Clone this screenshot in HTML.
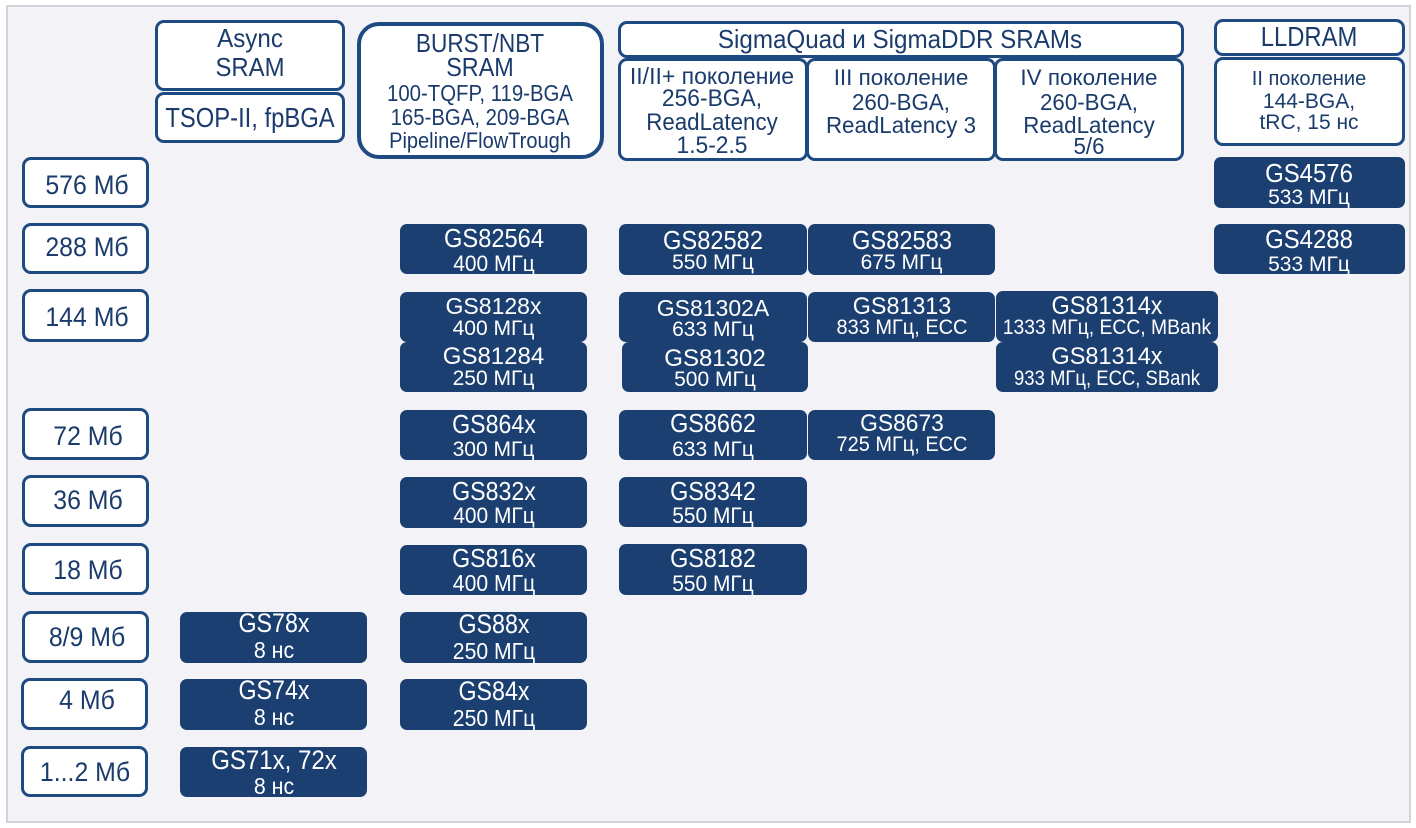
<!DOCTYPE html>
<html><head><meta charset="utf-8">
<style>
*{margin:0;padding:0;box-sizing:border-box}
html,body{width:1416px;height:828px;background:#fff;overflow:hidden}
body{position:relative;font-family:"Liberation Sans","DejaVu Sans",sans-serif}
#frame{position:absolute;left:6px;top:5px;width:1405px;height:818px;background:#f2f2f7;border:2px solid #d2d2d8}
.w{position:absolute;background:#fff;border:3px solid #1d4a80;border-radius:9px}
.d{position:absolute;background:#1b3f70;border-radius:7px}
.t{position:absolute;width:400px;text-align:center;white-space:nowrap;transform-origin:50% 50%}
.n{color:#1a3b6c}
.c{color:#fff}
</style></head><body>
<div id="frame"></div>

<!-- header boxes -->
<div class="w" style="left:155px;top:20px;width:190px;height:71px"></div>
<div class="w" style="left:155px;top:92px;width:190px;height:51px"></div>
<div class="w" style="left:357px;top:22px;width:247px;height:137px;border-width:4px;border-radius:22px"></div>
<div class="w" style="left:618px;top:21px;width:566px;height:37px"></div>
<div class="w" style="left:618px;top:58px;width:190px;height:103px"></div>
<div class="w" style="left:806px;top:58px;width:190px;height:103px"></div>
<div class="w" style="left:994px;top:58px;width:190px;height:103px"></div>
<div class="w" style="left:1214px;top:19px;width:191px;height:37px"></div>
<div class="w" style="left:1214px;top:57px;width:191px;height:89px"></div>

<!-- size labels -->
<div class="w" style="left:22px;top:157px;width:127px;height:51px"></div>
<div class="w" style="left:22px;top:223px;width:127px;height:51px"></div>
<div class="w" style="left:22px;top:289px;width:127px;height:53px"></div>
<div class="w" style="left:22px;top:408px;width:127px;height:52px"></div>
<div class="w" style="left:22px;top:475px;width:127px;height:52px"></div>
<div class="w" style="left:22px;top:543px;width:127px;height:52px"></div>
<div class="w" style="left:22px;top:611px;width:127px;height:52px"></div>
<div class="w" style="left:21px;top:678px;width:127px;height:52px"></div>
<div class="w" style="left:21px;top:746px;width:127px;height:51px"></div>

<!-- dark boxes -->
<div class="d" style="left:180px;top:612px;width:187px;height:51px"></div>
<div class="d" style="left:180px;top:679px;width:187px;height:51px"></div>
<div class="d" style="left:180px;top:747px;width:187px;height:50px"></div>

<div class="d" style="left:400px;top:224px;width:187px;height:50px"></div>
<div class="d" style="left:400px;top:292px;width:187px;height:50px"></div>
<div class="d" style="left:400px;top:342px;width:187px;height:50px"></div>
<div class="d" style="left:400px;top:410px;width:187px;height:50px"></div>
<div class="d" style="left:400px;top:477px;width:187px;height:51px"></div>
<div class="d" style="left:400px;top:545px;width:187px;height:50px"></div>
<div class="d" style="left:400px;top:612px;width:187px;height:51px"></div>
<div class="d" style="left:400px;top:679px;width:187px;height:51px"></div>

<div class="d" style="left:619px;top:224px;width:188px;height:51px"></div>
<div class="d" style="left:619px;top:292px;width:188px;height:50px"></div>
<div class="d" style="left:622px;top:342px;width:186px;height:50px"></div>
<div class="d" style="left:619px;top:410px;width:188px;height:50px"></div>
<div class="d" style="left:619px;top:477px;width:188px;height:50px"></div>
<div class="d" style="left:619px;top:544px;width:188px;height:51px"></div>

<div class="d" style="left:808px;top:224px;width:187px;height:51px"></div>
<div class="d" style="left:808px;top:292px;width:187px;height:50px"></div>
<div class="d" style="left:808px;top:410px;width:187px;height:50px"></div>

<div class="d" style="left:996px;top:291px;width:222px;height:51px"></div>
<div class="d" style="left:996px;top:342px;width:222px;height:50px"></div>

<div class="d" style="left:1214px;top:157px;width:191px;height:51px"></div>
<div class="d" style="left:1214px;top:224px;width:191px;height:50px"></div>

<!-- header texts -->
<div class="t n" style="left:50px;top:24.7px;font-size:26px;line-height:26px;transform:scaleX(.93)">Async</div>
<div class="t n" style="left:50px;top:53.7px;font-size:26px;line-height:26px;transform:scaleX(.92)">SRAM</div>
<div class="t n" style="left:50px;top:103.6px;font-size:28px;line-height:28px;transform:scaleX(.85)">TSOP-II, fpBGA</div>

<div class="t n" style="left:280px;top:30.3px;font-size:26px;line-height:26px;transform:scaleX(.87)">BURST/NBT</div>
<div class="t n" style="left:280px;top:54px;font-size:26px;line-height:26px;transform:scaleX(.9)">SRAM</div>
<div class="t n" style="left:280px;top:82.2px;font-size:23px;line-height:23px;transform:scaleX(.885)">100-TQFP, 119-BGA</div>
<div class="t n" style="left:280px;top:105.5px;font-size:23px;line-height:23px;transform:scaleX(.885)">165-BGA, 209-BGA</div>
<div class="t n" style="left:280px;top:129.7px;font-size:22px;line-height:22px;transform:scaleX(.91)">Pipeline/FlowTrough</div>

<div class="t n" style="left:700px;top:26.3px;font-size:26px;line-height:26px;transform:scaleX(.93)">SigmaQuad и SigmaDDR SRAMs</div>

<div class="t n" style="left:512px;top:64.5px;font-size:23px;line-height:23px;transform:scaleX(1)">II/II+ поколение</div>
<div class="t n" style="left:512px;top:87.2px;font-size:24px;line-height:24px;transform:scaleX(.95)">256-BGA,</div>
<div class="t n" style="left:512px;top:110.7px;font-size:24px;line-height:24px;transform:scaleX(.93)">ReadLatency</div>
<div class="t n" style="left:512px;top:133.7px;font-size:24px;line-height:24px;transform:scaleX(.95)">1.5-2.5</div>

<div class="t n" style="left:701px;top:67.4px;font-size:22px;line-height:22px;transform:scaleX(1.02)">III поколение</div>
<div class="t n" style="left:701px;top:90.5px;font-size:23px;line-height:23px;transform:scaleX(.97)">260-BGA,</div>
<div class="t n" style="left:701px;top:113.8px;font-size:23px;line-height:23px;transform:scaleX(.97)">ReadLatency 3</div>

<div class="t n" style="left:889px;top:67.4px;font-size:22px;line-height:22px;transform:scaleX(1.02)">IV поколение</div>
<div class="t n" style="left:889px;top:90.5px;font-size:23px;line-height:23px;transform:scaleX(.97)">260-BGA,</div>
<div class="t n" style="left:889px;top:113.5px;font-size:23px;line-height:23px;transform:scaleX(.97)">ReadLatency</div>
<div class="t n" style="left:889px;top:134.5px;font-size:23px;line-height:23px;transform:scaleX(.97)">5/6</div>

<div class="t n" style="left:1109px;top:23px;font-size:28px;line-height:28px;transform:scaleX(.85)">LLDRAM</div>
<div class="t n" style="left:1109px;top:69.1px;font-size:20px;line-height:20px;transform:scaleX(1)">II поколение</div>
<div class="t n" style="left:1109px;top:90.5px;font-size:21px;line-height:21px;transform:scaleX(1)">144-BGA,</div>
<div class="t n" style="left:1109px;top:112.2px;font-size:21px;line-height:21px;transform:scaleX(1)">tRC, 15 нс</div>

<!-- size label texts -->
<div class="t n" style="left:-113px;top:171.6px;font-size:27px;line-height:27px;transform:scaleX(.92)">576 Мб</div>
<div class="t n" style="left:-113px;top:233.8px;font-size:27px;line-height:27px;transform:scaleX(.92)">288 Мб</div>
<div class="t n" style="left:-113px;top:303.8px;font-size:27px;line-height:27px;transform:scaleX(.92)">144 Мб</div>
<div class="t n" style="left:-112px;top:422.8px;font-size:27px;line-height:27px;transform:scaleX(.92)">72 Мб</div>
<div class="t n" style="left:-112px;top:487.1px;font-size:27px;line-height:27px;transform:scaleX(.92)">36 Мб</div>
<div class="t n" style="left:-112px;top:557.1px;font-size:27px;line-height:27px;transform:scaleX(.92)">18 Мб</div>
<div class="t n" style="left:-113px;top:624.4px;font-size:27px;line-height:27px;transform:scaleX(.92)">8/9 Мб</div>
<div class="t n" style="left:-113px;top:687.1px;font-size:27px;line-height:27px;transform:scaleX(.92)">4 Мб</div>
<div class="t n" style="left:-115px;top:758.8px;font-size:27px;line-height:27px;transform:scaleX(.92)">1...2 Мб</div>

<!-- Async column texts -->
<div class="t c" style="left:73.5px;top:610.4px;font-size:27px;line-height:27px;transform:scaleX(.86)">GS78x</div>
<div class="t c" style="left:73.5px;top:638.8px;font-size:23px;line-height:23px;transform:scaleX(.93)">8 нс</div>
<div class="t c" style="left:73.5px;top:677.4px;font-size:27px;line-height:27px;transform:scaleX(.86)">GS74x</div>
<div class="t c" style="left:73.5px;top:705.8px;font-size:23px;line-height:23px;transform:scaleX(.93)">8 нс</div>
<div class="t c" style="left:73.5px;top:747.1px;font-size:27px;line-height:27px;transform:scaleX(.89)">GS71x, 72x</div>
<div class="t c" style="left:73.5px;top:774.5px;font-size:23px;line-height:23px;transform:scaleX(.93)">8 нс</div>

<!-- BURST column texts -->
<div class="t c" style="left:293.5px;top:225.3px;font-size:26px;line-height:26px;transform:scaleX(.91)">GS82564</div>
<div class="t c" style="left:293.5px;top:253.1px;font-size:22px;line-height:22px;transform:scaleX(.95)">400 МГц</div>
<div class="t c" style="left:293.5px;top:294.8px;font-size:23px;line-height:23px;transform:scaleX(1)">GS8128x</div>
<div class="t c" style="left:293.5px;top:317.9px;font-size:21px;line-height:21px;transform:scaleX(1)">400 МГц</div>
<div class="t c" style="left:293.5px;top:344.7px;font-size:24px;line-height:24px;transform:scaleX(1)">GS81284</div>
<div class="t c" style="left:293.5px;top:368.2px;font-size:21px;line-height:21px;transform:scaleX(1)">250 МГц</div>
<div class="t c" style="left:293.5px;top:411.3px;font-size:26px;line-height:26px;transform:scaleX(.89)">GS864x</div>
<div class="t c" style="left:293.5px;top:438.9px;font-size:21px;line-height:21px;transform:scaleX(1)">300 МГц</div>
<div class="t c" style="left:293.5px;top:478.3px;font-size:26px;line-height:26px;transform:scaleX(.89)">GS832x</div>
<div class="t c" style="left:293.5px;top:505.2px;font-size:22px;line-height:22px;transform:scaleX(.95)">400 МГц</div>
<div class="t c" style="left:293.5px;top:544.7px;font-size:26px;line-height:26px;transform:scaleX(.89)">GS816x</div>
<div class="t c" style="left:293.5px;top:572.2px;font-size:23px;line-height:23px;transform:scaleX(.92)">400 МГц</div>
<div class="t c" style="left:293.5px;top:611.4px;font-size:27px;line-height:27px;transform:scaleX(.86)">GS88x</div>
<div class="t c" style="left:293.5px;top:639.8px;font-size:23px;line-height:23px;transform:scaleX(.92)">250 МГц</div>
<div class="t c" style="left:293.5px;top:677.8px;font-size:27px;line-height:27px;transform:scaleX(.86)">GS84x</div>
<div class="t c" style="left:293.5px;top:706.5px;font-size:23px;line-height:23px;transform:scaleX(.92)">250 МГц</div>

<!-- Sigma col1 -->
<div class="t c" style="left:513px;top:226.5px;font-size:26px;line-height:26px;transform:scaleX(.91)">GS82582</div>
<div class="t c" style="left:513px;top:252.2px;font-size:21px;line-height:21px;transform:scaleX(1)">550 МГц</div>
<div class="t c" style="left:513px;top:297.2px;font-size:23px;line-height:23px;transform:scaleX(1)">GS81302A</div>
<div class="t c" style="left:513px;top:318.9px;font-size:21px;line-height:21px;transform:scaleX(1)">633 МГц</div>
<div class="t c" style="left:515px;top:347.4px;font-size:24px;line-height:24px;transform:scaleX(1)">GS81302</div>
<div class="t c" style="left:515px;top:368.9px;font-size:21px;line-height:21px;transform:scaleX(1)">500 МГц</div>
<div class="t c" style="left:513px;top:410.3px;font-size:26px;line-height:26px;transform:scaleX(.9)">GS8662</div>
<div class="t c" style="left:513px;top:438.9px;font-size:21px;line-height:21px;transform:scaleX(1)">633 МГц</div>
<div class="t c" style="left:513px;top:478.3px;font-size:26px;line-height:26px;transform:scaleX(.9)">GS8342</div>
<div class="t c" style="left:513px;top:505.2px;font-size:22px;line-height:22px;transform:scaleX(.95)">550 МГц</div>
<div class="t c" style="left:513px;top:544.7px;font-size:26px;line-height:26px;transform:scaleX(.9)">GS8182</div>
<div class="t c" style="left:513px;top:573.1px;font-size:22px;line-height:22px;transform:scaleX(.95)">550 МГц</div>

<!-- Sigma col2 -->
<div class="t c" style="left:701.5px;top:226.5px;font-size:26px;line-height:26px;transform:scaleX(.91)">GS82583</div>
<div class="t c" style="left:701.5px;top:252.2px;font-size:21px;line-height:21px;transform:scaleX(1)">675 МГц</div>
<div class="t c" style="left:701.5px;top:294.7px;font-size:24px;line-height:24px;transform:scaleX(.97)">GS81313</div>
<div class="t c" style="left:701.5px;top:317.2px;font-size:21px;line-height:21px;transform:scaleX(.95)">833 МГц, ECC</div>
<div class="t c" style="left:701.5px;top:412.2px;font-size:24px;line-height:24px;transform:scaleX(.95)">GS8673</div>
<div class="t c" style="left:701.5px;top:433.9px;font-size:21px;line-height:21px;transform:scaleX(.95)">725 МГц, ECC</div>

<!-- Sigma col3 -->
<div class="t c" style="left:907px;top:293.8px;font-size:25px;line-height:25px;transform:scaleX(.94)">GS81314x</div>
<div class="t c" style="left:907px;top:317.2px;font-size:21px;line-height:21px;transform:scaleX(.92)">1333 МГц, ECC, MBank</div>
<div class="t c" style="left:907px;top:345.1px;font-size:24px;line-height:24px;transform:scaleX(.98)">GS81314x</div>
<div class="t c" style="left:907px;top:368.2px;font-size:21px;line-height:21px;transform:scaleX(.88)">933 МГц, ECC, SBank</div>

<!-- LLDRAM -->
<div class="t c" style="left:1109px;top:159.7px;font-size:26px;line-height:26px;transform:scaleX(.92)">GS4576</div>
<div class="t c" style="left:1109px;top:187.2px;font-size:21px;line-height:21px;transform:scaleX(1)">533 МГц</div>
<div class="t c" style="left:1109px;top:226.3px;font-size:26px;line-height:26px;transform:scaleX(.92)">GS4288</div>
<div class="t c" style="left:1109px;top:253.9px;font-size:21px;line-height:21px;transform:scaleX(1)">533 МГц</div>

</body></html>
